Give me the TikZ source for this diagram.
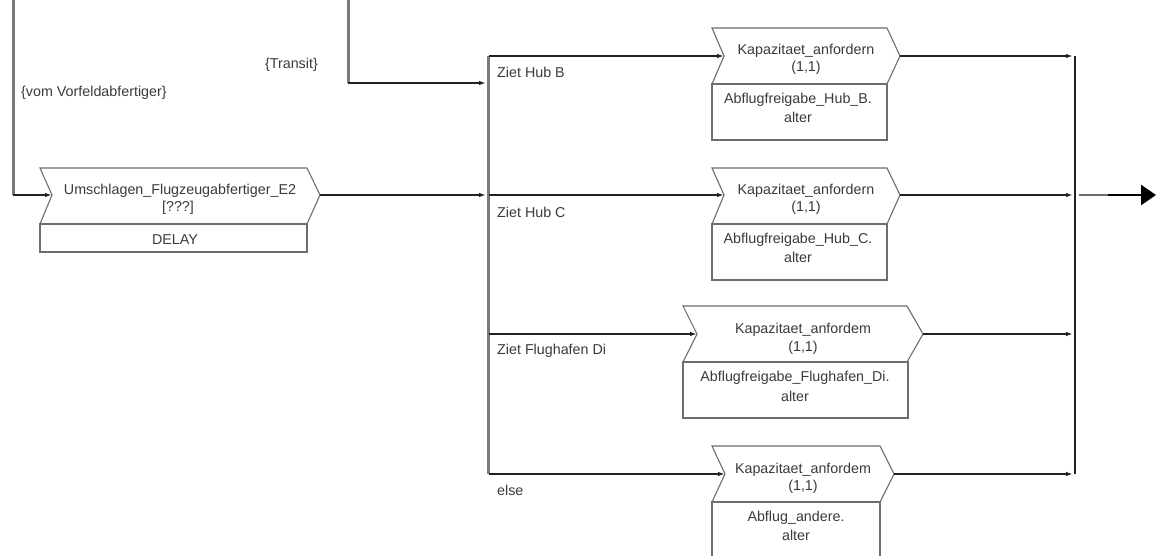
\documentclass[tikz,border=0pt]{standalone}
\usepackage{fontspec}
\setmainfont{Liberation Sans}
\usetikzlibrary{arrows.meta}
\definecolor{txt}{HTML}{3A3A3A}
\definecolor{edge}{HTML}{6E6E6E}
\definecolor{bar}{HTML}{7A7A7A}
\definecolor{ln}{HTML}{222222}
\tikzset{
  boxline/.style={draw=edge, line width=1.1pt},
  barline/.style={draw=bar, line width=3pt},
  conn/.style={draw=ln, line width=1.4pt, -{Latex[length=7pt,width=4.5pt]}},
  plain/.style={draw=ln, line width=1.6pt},
  lbl/.style={text=txt, font=\fontsize{14.3}{16}\selectfont, inner sep=0pt},
}
\begin{document}
\begin{tikzpicture}[x=1pt,y=-1pt]
\useasboundingbox (0,0) rectangle (1156,556);
\fill[white] (0,0) rectangle (1156,556);

% --- coordinates
\coordinate (ltop) at (13,0);
\coordinate (lcorner) at (13,195);
\coordinate (ttop) at (348,0);
\coordinate (tcorner) at (348,83);
\coordinate (uin) at (52,195);
\coordinate (uout) at (320,195);
\coordinate (bartop) at (488,56);
\coordinate (barbot) at (488,474);
\coordinate (barB) at (486,83);
\coordinate (barC) at (486,195);
\coordinate (b1in) at (724,56);  \coordinate (b1out) at (900,56);
\coordinate (b2in) at (724,195); \coordinate (b2out) at (900,195);
\coordinate (b3in) at (697,334); \coordinate (b3out) at (923,334);
\coordinate (b4in) at (725,474); \coordinate (b4out) at (894,474);
\coordinate (s1) at (489,56); \coordinate (s2) at (489,195);
\coordinate (s3) at (489,334); \coordinate (s4) at (489,474);
\coordinate (ctop) at (1075,56);
\coordinate (cbot) at (1075,474);
\coordinate (c1) at (1073,56); \coordinate (c2) at (1073,195);
\coordinate (c3) at (1073,334); \coordinate (c4) at (1073,474);
\coordinate (o1) at (1079,195);
\coordinate (o2) at (1108,195);
\coordinate (o3) at (1156,195);

% --- Umschlagen box
\draw[boxline] (40,168) -- (307,168) -- (uout) -- (307,224) -- (40,224) -- (uin) -- cycle;
\draw[boxline] (40,224) rectangle (307,252);
\node[lbl] (u1) at (180,191) {Umschlagen\_Flugzeugabfertiger\_E2};
\node[lbl] (u2) at (178,208) {[???]};
\node[lbl] (u3) at (175,240) {DELAY};

% --- Box 1
\draw[boxline] (712,28) -- (887,28) -- (b1out) -- (887,84) -- (712,84) -- (b1in) -- cycle;
\draw[boxline] (712,84) rectangle (887,140);
\node[lbl] (k1) at (806,51) {Kapazitaet\_anfordern};
\node[lbl] (k1b) at (806,68) {(1,1)};
\node[lbl] (a1) at (798,100) {Abflugfreigabe\_Hub\_B.};
\node[lbl] (a1b) at (798,117) {alter};

% --- Box 2
\draw[boxline] (712,168) -- (887,168) -- (b2out) -- (887,224) -- (712,224) -- (b2in) -- cycle;
\draw[boxline] (712,224) rectangle (887,280);
\node[lbl] (k2) at (806,191) {Kapazitaet\_anfordern};
\node[lbl] (k2b) at (806,208) {(1,1)};
\node[lbl] (a2) at (798,240) {Abflugfreigabe\_Hub\_C.};
\node[lbl] (a2b) at (798,257) {alter};

% --- Box 3
\draw[boxline] (683,306) -- (907,306) -- (b3out) -- (907,362) -- (683,362) -- (b3in) -- cycle;
\draw[boxline] (683,362) rectangle (908,418);
\node[lbl] (k3) at (803,330) {Kapazitaet\_anfordem};
\node[lbl] (k3b) at (803,348) {(1,1)};
\node[lbl] (a3) at (795,378) {Abflugfreigabe\_Flughafen\_Di.};
\node[lbl] (a3b) at (795,396) {alter};

% --- Box 4
\draw[boxline] (712,446) -- (880,446) -- (b4out) -- (880,502) -- (712,502) -- (b4in) -- cycle;
\draw[boxline] (712,560) -- (712,502) -- (880,502) -- (880,560);
\node[lbl] (k4) at (803,470) {Kapazitaet\_anfordem};
\node[lbl] (k4b) at (803,487) {(1,1)};
\node[lbl] (a4) at (796,518) {Abflug\_andere.};
\node[lbl] (a4b) at (796,535) {alter};

% --- labels
\node[lbl, anchor=east] (tr) at (318,65) {\{Transit\}};
\node[lbl, anchor=west] (vv) at (21,93) {\{vom Vorfeldabfertiger\}};
\node[lbl, anchor=west] (zb) at (497,72) {Ziet Hub B};
\node[lbl, anchor=west] (zc) at (497,212) {Ziet Hub C};
\node[lbl, anchor=west] (zd) at (497,351) {Ziet Flughafen Di};
\node[lbl, anchor=west] (ze) at (497,490) {else};

% --- connectors
\draw[barline] (ltop) -- (lcorner);
\draw[conn] (lcorner) -- (uin);
\draw[barline] (ttop) -- (tcorner);
\draw[conn] (tcorner) -- (barB);
\draw[conn] (uout) -- (barC);
\draw[barline] (bartop) -- (barbot);
\draw[conn] (s1) -- (b1in);
\draw[conn] (s2) -- (b2in);
\draw[conn] (s3) -- (b3in);
\draw[conn] (s4) -- (b4in);
\draw[plain] (ctop) -- (cbot);
\draw[conn] (b1out) -- (c1);
\draw[conn] (b2out) -- (c2);
\draw[conn] (b3out) -- (c3);
\draw[conn] (b4out) -- (c4);
\draw[draw=edge, line width=1.1pt] (o1) -- (o2);
\draw[draw=black, line width=2.6pt, -{Triangle[length=15pt,width=20pt]}] (o2) -- (o3);
\end{tikzpicture}
\end{document}
